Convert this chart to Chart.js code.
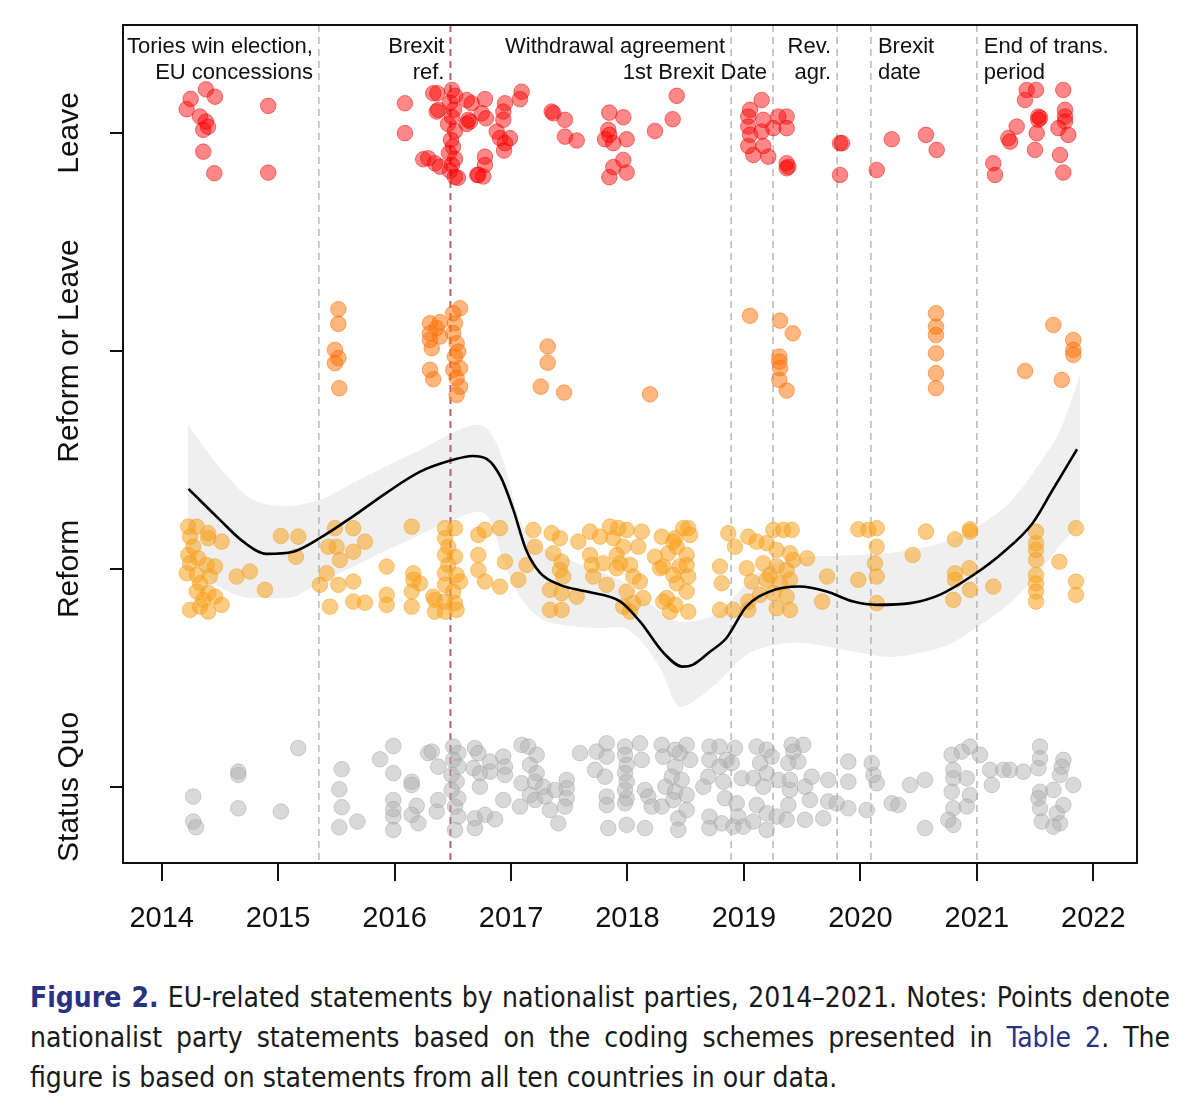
<!DOCTYPE html>
<html><head><meta charset="utf-8">
<script src="https://cdn.jsdelivr.net/npm/chart.js@4.4.1/dist/chart.umd.min.js"></script>
<style>
html,body{margin:0;padding:0;background:#fff;}
body{width:1200px;height:1117px;position:relative;overflow:hidden;}
#wrap{position:absolute;left:0;top:0;width:1200px;height:960px;}
#cap{position:absolute;left:30px;top:978px;width:1140px;font-family:"Liberation Sans Narrow","DejaVu Sans Condensed",sans-serif;font-size:28px;line-height:40px;color:#1a1a1a;}
#cap div{text-align:justify;text-align-last:justify;}
#cap div.last{text-align-last:left;}
#cap b{color:#2a3282;}
#cap span.t{color:#2a3282;}
</style>
</head><body>
<div id="wrap"><canvas id="c" width="1200" height="960"></canvas></div>
<div id="cap">
<div><b>Figure 2.</b> EU-related statements by nationalist parties, 2014–2021. Notes: Points denote</div>
<div>nationalist party statements based on the coding schemes presented in <span class="t">Table 2</span>. The</div>
<div class="last">figure is based on statements from all ten countries in our data.</div>
</div>
<script>
// ---- axis / categories ----
const xTicks = [2014,2015,2016,2017,2018,2019,2020,2021,2022];
const yTickValues = [1,2,3,4];
const yTickLabels = ["Status Quo","Reform","Reform or Leave","Leave"];

// ---- events ----
const eventX = [2015.35,2016.48,2018.89,2019.25,2019.80,2020.09,2021.00];
const eventLine1 = ["Tories win election,","Brexit","Withdrawal agreement","","Rev.","Brexit","End of trans."];
const eventLine2 = ["EU concessions","ref.","","1st Brexit Date","agr.","date","period"];
const eventAlign = ["right","right","right","right","right","left","left"];

// ---- statements: [date (year), category + jitter] ----
const leaveData = [
[2014.380,4.200],[2014.458,4.166],[2014.249,4.156],[2014.215,4.109],[2014.329,4.075],[2014.380,4.052],[2014.398,4.028],[2014.357,4.014],[2014.357,3.914],[2014.452,3.815],[2014.915,4.124],[2014.915,3.818],
[2016.089,4.136],[2016.089,3.999],[2016.367,4.182],[2016.362,4.098],[2016.289,3.884],[2016.347,3.861],[2016.390,3.845],[2016.246,3.879],
[2016.493,4.197],[2016.519,4.170],[2016.476,4.138],[2016.510,4.106],[2016.493,4.073],[2016.459,4.041],[2016.519,4.009],[2016.484,3.968],[2016.501,3.936],[2016.467,3.908],[2016.519,3.881],[2016.493,3.853],[2016.476,3.826],[2016.519,3.798],[2016.544,3.794],
[2016.619,4.151],[2016.662,4.136],[2016.776,4.155],[2016.748,4.090],[2016.785,4.067],[2016.648,4.052],[2016.619,4.041],[2016.948,4.136],[2016.934,4.098],[2016.934,4.060],[2016.877,4.006],[2016.905,3.976],[2016.991,3.976],[2016.948,3.953],[2016.940,3.919],[2016.776,3.891],[2016.776,3.853],[2016.710,3.807],[2016.762,3.800],
[2017.091,4.189],[2017.077,4.155],[2017.349,4.098],[2017.363,4.090],[2017.463,4.060],[2017.463,3.983],[2017.564,3.965],
[2017.844,4.093],[2017.964,4.072],[2017.835,4.014],[2017.844,3.991],[2017.807,3.971],[2017.993,3.971],[2017.878,3.953],[2017.964,3.876],[2017.878,3.843],[2017.993,3.818],[2017.844,3.797],
[2016.332,4.182],[2016.375,4.106],[2016.633,4.060],[2016.719,3.807],
[2018.236,4.009],[2018.388,4.063],[2018.423,4.170],
[2019.152,4.151],[2019.052,4.106],[2019.037,4.075],[2019.166,4.060],[2019.037,4.029],[2019.152,4.006],[2019.252,4.022],[2019.052,3.991],[2019.037,3.940],[2019.166,3.940],[2019.080,3.899],[2019.209,3.891],
[2019.295,4.075],[2019.367,4.075],[2019.367,4.022],[2019.367,3.861],[2019.367,3.838],[2019.381,3.845],
[2019.825,3.953],[2019.842,3.953],[2019.825,3.807],[2020.140,3.830],[2020.269,3.971],[2020.563,3.991],[2020.655,3.922],
[2021.141,3.861],[2021.156,3.807],[2021.270,3.976],[2021.285,3.960],[2021.342,4.029],[2021.428,4.197],[2021.413,4.151],[2021.508,4.197],[2021.528,4.075],[2021.528,4.060],[2021.543,4.069],[2021.514,3.999],[2021.499,3.922],
[2021.742,4.197],[2021.757,4.106],[2021.757,4.075],[2021.757,4.052],[2021.700,4.022],[2021.785,3.991],[2021.714,3.899],[2021.742,3.818]
];
const reformOrLeaveData = [
[2015.517,3.191],[2015.517,3.124],[2015.488,3.005],[2015.517,2.967],[2015.488,2.944],[2015.525,2.829],
[2016.304,3.127],[2016.390,3.132],[2016.304,3.081],[2016.304,3.050],[2016.319,3.012],[2016.390,3.066],[2016.304,2.913],[2016.332,2.870],[2016.362,3.105],
[2016.562,3.196],[2016.504,3.173],[2016.519,3.127],[2016.504,3.081],[2016.533,3.035],[2016.547,2.997],[2016.519,2.974],[2016.504,2.913],[2016.562,2.921],[2016.533,2.875],[2016.562,2.836],[2016.533,2.798],
[2017.315,3.020],[2017.315,2.946],[2017.255,2.836],[2017.455,2.809],[2018.193,2.801],
[2019.052,3.161],[2019.310,3.139],[2019.419,3.081],[2019.304,2.974],[2019.304,2.951],[2019.310,2.921],[2019.304,2.867],[2019.367,2.818],
[2020.649,3.173],[2020.649,3.111],[2020.649,3.073],[2020.649,2.989],[2020.649,2.898],[2020.649,2.829],
[2021.657,3.119],[2021.414,2.908],[2021.729,2.867],[2021.828,3.050],[2021.828,3.005],[2021.828,2.982]
];
const reformData = [
[2014.228,2.194],[2014.301,2.194],[2014.400,2.164],[2014.243,2.148],[2014.400,2.141],[2014.515,2.125],[2014.271,2.102],[2014.228,2.064],[2014.314,2.049],[2014.243,2.026],[2014.386,2.018],[2014.458,2.011],
[2014.215,1.980],[2014.301,1.972],[2014.415,1.965],[2014.329,1.934],[2014.301,1.896],[2014.400,1.889],[2014.458,1.873],[2014.357,1.858],[2014.515,1.835],[2014.243,1.812],[2014.400,1.804],[2014.329,1.827],
[2014.644,1.965],[2014.758,1.988],[2014.887,1.904],[2015.024,2.151],[2015.173,2.148],[2015.153,2.056],
[2015.359,1.927],[2015.417,1.980],[2015.431,2.102],[2015.488,2.187],[2015.503,2.102],[2015.531,2.041],[2015.517,1.927],[2015.645,2.187],[2015.746,2.125],[2015.645,2.079],[2015.645,1.942],[2015.445,1.827],[2015.645,1.850],[2015.746,1.845],
[2015.932,2.011],[2015.932,1.881],[2015.932,1.835],[2016.147,2.194],[2016.161,1.980],[2016.161,1.950],[2016.218,1.934],[2016.147,1.896],[2016.147,1.827],[2016.332,1.873],
[2016.433,2.187],[2016.519,2.187],[2016.433,2.141],[2016.461,2.102],[2016.433,2.064],[2016.519,2.056],[2016.461,2.018],[2016.433,1.980],[2016.533,1.972],[2016.562,1.942],[2016.433,1.927],[2016.504,1.896],[2016.347,1.858],[2016.433,1.850],[2016.519,1.843],[2016.347,1.804],[2016.433,1.804],[2016.533,1.812],
[2016.719,2.156],[2016.776,2.179],[2016.905,2.187],[2016.719,2.064],[2016.719,1.995],[2016.776,1.942],[2016.948,2.033],[2016.905,1.919],[2017.062,1.950],
[2017.191,2.179],[2017.206,2.102],[2017.134,2.018],[2017.349,2.164],[2017.420,2.141],[2017.363,2.072],[2017.435,2.033],[2017.420,1.995],[2017.449,1.965],[2017.334,1.904],[2017.435,1.889],[2017.334,1.812],[2017.435,1.812],[2017.564,1.873],[2017.577,2.125],
[2017.678,2.171],[2017.765,2.148],[2017.678,2.064],[2017.693,2.018],[2017.850,2.194],[2017.921,2.187],[2017.993,2.179],[2017.964,2.102],[2017.792,2.026],[2017.936,2.026],[2018.022,2.018],[2017.706,1.965],[2017.821,1.927],[2017.964,1.827],[2018.050,1.843],
[2017.878,2.141],[2017.907,2.064],[2017.907,2.003],[2018.050,1.965],[2018.107,1.942],[2017.993,1.896],[2018.136,1.866],[2018.022,1.804],[2018.093,2.102],[2018.122,2.171],
[2018.294,2.148],[2018.409,2.141],[2018.522,2.187],[2018.537,2.156],[2018.236,2.056],[2018.350,2.072],[2018.423,2.102],[2018.508,2.064],[2018.307,2.011],[2018.447,2.011],[2018.522,1.965],[2018.423,1.934],[2018.508,1.896],[2018.307,1.850],[2018.409,1.835],[2018.522,1.804],
[2018.479,2.187],[2018.393,1.972],[2018.337,1.866],[2018.279,2.003],[2018.393,2.125],[2018.508,2.018],[2018.365,1.804],
[2018.794,2.011],[2018.809,1.934],[2018.794,1.812],[2018.866,2.164],[2018.923,2.102],[2018.909,1.812],
[2019.037,2.148],[2019.109,2.125],[2019.024,2.003],[2019.067,1.942],[2019.037,1.850],[2019.037,1.812],
[2019.252,2.179],[2019.338,2.179],[2019.410,2.179],[2019.195,2.118],[2019.281,2.087],[2019.395,2.072],[2019.166,2.026],[2019.281,2.011],[2019.367,1.995],[2019.424,2.041],[2019.195,1.950],[2019.310,1.934],[2019.395,1.950],[2019.252,1.889],[2019.367,1.873],[2019.281,1.820],[2019.395,1.812],[2019.138,1.881],[2019.224,1.972],
[2019.542,2.049],[2019.671,1.850],[2019.714,1.965],
[2019.982,2.182],[2020.068,2.179],[2020.140,2.187],[2020.140,2.102],[2020.125,2.026],[2020.140,1.965],[2019.982,1.950],[2020.140,1.843],
[2020.449,2.064],[2020.563,2.171],[2020.812,2.136],[2020.941,2.182],[2020.941,2.171],[2020.812,1.980],[2020.812,1.950],[2020.935,2.003],[2020.941,1.904],[2020.798,1.858],[2021.141,1.919],
[2021.508,2.171],[2021.508,2.118],[2021.508,2.087],[2021.508,2.041],[2021.508,1.972],[2021.508,1.934],[2021.508,1.896],[2021.508,1.850],
[2021.708,2.033],[2021.851,2.187],[2021.851,1.942],[2021.851,1.881]
];
const statusQuoData = [
[2014.271,0.956],[2014.271,0.841],[2014.295,0.815],[2014.658,1.070],[2014.658,1.055],[2014.658,0.902],[2015.024,0.887],[2015.173,1.178],
[2015.546,1.081],[2015.525,0.989],[2015.546,0.907],[2015.525,0.815],[2015.680,0.841],[2015.875,1.127],
[2015.989,1.188],[2015.989,1.063],[2015.989,0.940],[2015.989,0.898],[2015.989,0.864],[2015.989,0.803],
[2016.147,1.024],[2016.147,1.009],[2016.190,0.913],[2016.147,0.872],[2016.204,0.833],[2016.289,1.155],[2016.319,1.162],[2016.375,1.093],[2016.375,0.940],[2016.362,0.887],
[2016.504,1.185],[2016.547,1.155],[2016.504,1.124],[2016.547,1.093],[2016.490,1.055],[2016.533,1.024],[2016.490,0.986],[2016.547,0.948],[2016.519,0.910],[2016.547,0.864],[2016.519,0.803],
[2016.690,1.178],[2016.719,1.155],[2016.676,1.086],[2016.733,1.063],[2016.733,1.001],[2016.690,0.856],[2016.690,0.811],[2016.776,0.872],[2016.862,0.852],[2016.819,1.116],[2016.819,1.070],
[2016.933,1.139],[2016.948,1.093],[2016.948,1.055],[2016.933,0.940],
[2017.091,1.193],[2017.148,1.185],[2017.220,1.147],[2017.163,1.101],[2017.220,1.063],[2017.091,1.017],[2017.206,1.024],[2017.277,1.001],[2017.163,0.963],[2017.206,0.940],[2017.292,0.956],[2017.077,0.910],[2017.334,0.894],[2017.377,0.986],
[2017.478,1.032],[2017.478,0.994],[2017.478,0.948],[2017.463,0.910],[2017.406,0.833],[2017.592,1.155],[2017.735,1.162],[2017.721,1.078],
[2017.821,1.200],[2017.821,1.139],[2017.807,1.047],[2017.821,0.956],[2017.821,0.917],[2017.835,0.811],
[2017.979,1.185],[2017.979,1.147],[2017.993,1.101],[2017.979,1.063],[2017.993,1.024],[2017.979,0.986],[2017.993,0.948],[2017.979,0.925],[2017.993,0.826],
[2018.107,1.200],[2018.122,1.124],[2018.150,0.986],[2018.179,0.956],[2018.208,0.910],[2018.150,0.811],
[2018.294,1.193],[2018.307,1.139],[2018.409,1.170],[2018.447,1.155],[2018.508,1.193],[2018.537,1.124],[2018.409,1.093],[2018.380,1.047],[2018.465,1.032],[2018.325,1.001],[2018.409,0.978],[2018.508,0.963],[2018.393,0.940],[2018.508,0.894],[2018.436,0.856],[2018.436,0.803],[2018.294,0.910],
[2018.704,1.185],[2018.790,1.185],[2018.704,1.124],[2018.852,1.124],[2018.790,1.093],[2018.694,1.047],[2018.823,1.024],[2018.651,1.001],[2018.837,0.948],[2018.704,0.864],[2018.809,0.833],[2018.704,0.811],[2018.909,0.818],
[2018.923,1.178],[2018.895,1.109],[2018.981,1.040],[2018.938,0.925],[2018.994,0.818],[2018.951,0.864],
[2019.109,1.185],[2019.195,1.170],[2019.138,1.109],[2019.238,1.139],[2019.195,1.063],[2019.080,1.040],[2019.166,1.001],[2019.295,1.032],[2019.109,0.917],[2019.195,0.879],[2019.080,0.841],[2019.195,0.803],[2019.281,0.864],
[2019.367,0.849],[2019.381,0.917],[2019.395,0.986],[2019.395,1.032],[2019.381,1.109],[2019.424,1.162],[2019.410,1.193],[2019.510,1.193],[2019.467,1.116],[2019.524,1.001],[2019.582,1.047],[2019.567,0.940],[2019.524,0.849],
[2019.681,0.856],[2019.724,1.032],[2019.724,0.933],[2019.896,1.116],[2019.896,1.024],[2019.796,0.925],[2019.896,0.902],
[2020.054,0.894],[2020.097,1.109],[2020.111,1.055],[2020.140,1.017],[2020.269,0.925],[2020.326,0.917],[2020.426,1.009],[2020.555,1.032],[2020.555,0.811],
[2020.784,1.147],[2020.870,1.162],[2020.941,1.185],[2021.027,1.147],[2020.798,1.078],[2020.798,1.040],[2020.913,1.040],[2020.784,0.978],[2020.941,0.963],[2020.798,0.902],[2020.913,0.910],[2020.755,0.849],[2020.798,0.826],
[2021.113,1.078],[2021.128,1.009],[2021.227,1.078],[2021.285,1.078],[2021.399,1.070],
[2021.542,1.185],[2021.542,1.132],[2021.528,1.086],[2021.542,0.978],[2021.528,0.948],[2021.542,0.902],[2021.557,0.841],
[2021.657,0.986],[2021.743,1.124],[2021.729,1.093],[2021.714,1.055],[2021.828,1.009],[2021.743,0.917],[2021.686,0.879],[2021.714,0.833],[2021.657,0.818]
];

// ---- smoothed trend and its confidence band ----
const smoothLine = [
[2014.23,2.367],[2014.50,2.225],[2014.70,2.125],[2014.90,2.069],[2015.13,2.079],[2015.36,2.142],[2015.64,2.240],[2015.93,2.349],[2016.22,2.446],[2016.48,2.497],[2016.67,2.518],[2016.79,2.505],[2016.91,2.423],[2017.02,2.271],[2017.13,2.087],[2017.25,1.982],[2017.42,1.927],[2017.65,1.896],[2017.94,1.850],[2018.11,1.757],[2018.31,1.615],[2018.47,1.552],[2018.56,1.560],[2018.71,1.621],[2018.85,1.683],[2019.02,1.827],[2019.22,1.896],[2019.48,1.919],[2019.71,1.896],[2019.94,1.850],[2020.14,1.835],[2020.43,1.843],[2020.68,1.881],[2020.97,1.972],[2021.22,2.073],[2021.48,2.211],[2021.65,2.362],[2021.86,2.549]
];
const bandX = [2014.226,2014.501,2014.784,2015.076,2015.359,2015.642,2015.934,2016.218,2016.501,2016.708,2016.819,2016.931,2017.077,2017.249,2017.506,2017.764,2017.936,2018.107,2018.279,2018.451,2018.623,2018.795,2019.010,2019.224,2019.482,2019.739,2019.997,2020.255,2020.512,2020.770,2021.027,2021.285,2021.517,2021.715,2021.887];
const bandUpper = [2.661,2.463,2.317,2.289,2.317,2.394,2.472,2.546,2.624,2.661,2.628,2.500,2.225,2.110,2.041,1.986,1.950,1.881,1.803,1.757,1.766,1.803,1.927,2.018,2.050,2.060,2.064,2.073,2.096,2.133,2.202,2.307,2.468,2.638,2.890];
const bandLower = [2.050,1.917,1.867,1.867,1.936,2.009,2.087,2.156,2.225,2.261,2.225,2.041,1.872,1.775,1.739,1.729,1.734,1.674,1.546,1.367,1.413,1.491,1.601,1.647,1.661,1.642,1.615,1.596,1.615,1.656,1.743,1.844,1.972,2.110,2.202];

const toPts = arr => arr.map(p => ({x:p[0], y:p[1]}));
const FONT = '"Liberation Sans", Arial, Helvetica, sans-serif';

const deco = {
  id:'deco',
  afterDatasetDraw(chart, args){
    if (args.index !== 5) return;
    const {ctx, chartArea:a, scales:{x}} = chart;
    ctx.save();
    eventX.forEach((ev,i)=>{
      const px = x.getPixelForValue(ev);
      ctx.beginPath();
      ctx.setLineDash([7,5]);
      ctx.strokeStyle = i===1 ? 'rgba(175,80,100,0.9)' : 'rgba(175,175,175,0.9)';
      ctx.lineWidth = i===1 ? 2 : 1.5;
      ctx.moveTo(px, a.top); ctx.lineTo(px, a.bottom); ctx.stroke();
    });
    ctx.restore();
  },
  afterDraw(chart){
    const {ctx, chartArea:a, scales:{x,y}} = chart;
    ctx.save();
    ctx.setLineDash([]);
    ctx.strokeStyle = '#111'; ctx.lineWidth = 2;
    ctx.strokeRect(a.left, a.top, a.right-a.left, a.bottom-a.top);
    // event annotations
    ctx.font = '22px ' + FONT;
    ctx.fillStyle = '#111';
    ctx.textBaseline = 'middle';
    eventX.forEach((ev,i)=>{
      const px = x.getPixelForValue(ev);
      const right = eventAlign[i] === 'right';
      ctx.textAlign = right ? 'right' : 'left';
      const tx = right ? px - 6 : px + 7;
      if (eventLine1[i]) ctx.fillText(eventLine1[i], tx, a.top + 22);
      if (eventLine2[i]) ctx.fillText(eventLine2[i], tx, a.top + 48);
    });
    // rotated category labels
    ctx.font = '30px ' + FONT;
    ctx.textAlign = 'center';
    yTickValues.forEach((v,i)=>{
      const py = y.getPixelForValue(v);
      ctx.save();
      ctx.translate(70, py);
      ctx.rotate(-Math.PI/2);
      ctx.fillText(yTickLabels[i], 0, 0);
      ctx.restore();
    });
    ctx.restore();
  }
};

const pointDs = (label, data, fill, border, order) => ({
  label, data: toPts(data), backgroundColor: fill, borderColor: border,
  borderWidth: 1, pointRadius: 7.8, pointHoverRadius: 7.8, order
});

new Chart(document.getElementById('c'), {
  type: 'scatter',
  data: { datasets: [
    {type:'line', label:'trend', data: toPts(smoothLine), borderColor:'#000', borderWidth:2.6,
     pointRadius:0, cubicInterpolationMode:'monotone', fill:false, order:0},
    pointDs('Leave', leaveData, 'rgba(255,0,0,0.47)', 'rgba(220,0,0,0.45)', 1),
    pointDs('Reform or Leave', reformOrLeaveData, 'rgba(255,115,10,0.52)', 'rgba(240,110,10,0.5)', 2),
    pointDs('Reform', reformData, 'rgba(248,162,30,0.55)', 'rgba(240,158,40,0.45)', 3),
    pointDs('Status Quo', statusQuoData, 'rgba(175,175,175,0.47)', 'rgba(160,160,160,0.45)', 4),
    {type:'line', label:'upper', data: bandX.map((v,i)=>({x:v, y:bandUpper[i]})), borderColor:'rgba(0,0,0,0)', borderWidth:0,
     pointRadius:0, cubicInterpolationMode:'monotone', fill:'+1', backgroundColor:'#efefef', order:10},
    {type:'line', label:'lower', data: bandX.map((v,i)=>({x:v, y:bandLower[i]})), borderColor:'rgba(0,0,0,0)', borderWidth:0,
     pointRadius:0, cubicInterpolationMode:'monotone', fill:false, order:11}
  ]},
  options: {
    responsive:false, animation:false,
    layout:{padding:{top:25, right:63, left:0, bottom:0}},
    plugins:{legend:{display:false}, tooltip:{enabled:false}},
    events:[],
    scales:{
      x:{type:'linear', min:2013.668, max:2022.375,
        afterBuildTicks: s => { s.ticks = xTicks.map(v=>({value:v})); },
        afterFit: s => { s.height = 97; },
        grid:{drawOnChartArea:false, drawTicks:true, tickLength:18, color:'#111', lineWidth:2},
        border:{display:true, color:'#111', width:2},
        ticks:{font:{family:FONT, size:29}, color:'#111', padding:21, maxRotation:0, autoSkip:false,
          callback: v => String(v)}
      },
      y:{type:'linear', min:0.651, max:4.495,
        afterBuildTicks: s => { s.ticks = yTickValues.map(v=>({value:v})); },
        afterFit: s => { s.width = 123; },
        grid:{drawOnChartArea:false, drawTicks:true, tickLength:13, color:'#111', lineWidth:2},
        border:{display:true, color:'#111', width:2},
        ticks:{display:false}
      }
    }
  },
  plugins:[deco]
});
</script>
</body></html>
